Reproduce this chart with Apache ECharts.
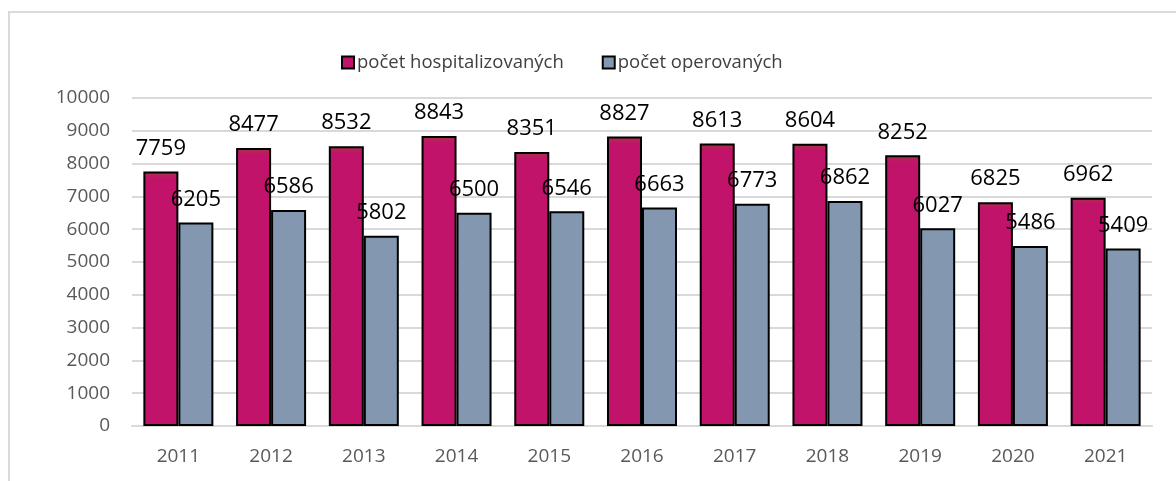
<!DOCTYPE html>
<html>
<head>
<meta charset="utf-8">
<script src="https://cdn.jsdelivr.net/npm/echarts@6/dist/echarts.min.js"></script>
<style>
  html, body { margin: 0; padding: 0; background: #fff; }
  #frame { position: absolute; left: 8px; top: 11px; width: 1180px; height: 480px;
           border-left: 2px solid #d9d9d9; border-top: 2px solid #d9d9d9; }
  #chart { position: absolute; left: 0; top: 0; width: 1176px; height: 481px; }
</style>
</head>
<body>
<div id="frame"></div>
<div id="chart"></div>
<script>
// roky a hodnoty
var roky = ['2011', '2012', '2013', '2014', '2015', '2016', '2017', '2018', '2019', '2020', '2021'];
var hospitalizovani = [7759, 8477, 8532, 8843, 8351, 8827, 8613, 8604, 8252, 6825, 6962];
var operovani = [6205, 6586, 5802, 6500, 6546, 6663, 6773, 6862, 6027, 5486, 5409];

var font = 'Open Sans';

var chart = echarts.init(document.getElementById('chart'));

var option = {
    animation: false,
    textStyle: { fontFamily: font },
    legend: {
        top: 48,
        left: 336,
        icon: 'rect',
        itemWidth: 12,
        itemHeight: 12,
        itemGap: 38,
        itemStyle: { borderColor: '#000', borderWidth: 2 },
        textStyle: { fontSize: 18.5, color: '#404040', fontFamily: font, padding: [0, 0, 0, -2] },
        data: ['počet hospitalizovaných', 'počet operovaných']
    },
    grid: { left: 132, right: 24, top: 98, bottom: 55 },
    xAxis: {
        type: 'category',
        data: roky,
        axisLine: { lineStyle: { color: '#d9d9d9', width: 2 } },
        axisTick: { show: false },
        axisLabel: { fontSize: 19, color: '#595959', margin: 21 }
    },
    yAxis: {
        type: 'value',
        min: 0,
        max: 10000,
        interval: 1000,
        axisLine: { show: false },
        axisTick: { show: false },
        axisLabel: {
            fontSize: 19,
            color: '#595959',
            margin: 22,
            formatter: function (v) { return String(v); }
        },
        splitLine: { lineStyle: { color: '#d9d9d9', width: 2 } }
    },
    series: [
        {
            name: 'počet hospitalizovaných',
            type: 'bar',
            data: hospitalizovani,
            barWidth: 35,
            barGap: '0%',
            itemStyle: {
                color: {
                    type: 'linear', x: 0, y: 0, x2: 0, y2: 1,
                    colorStops: [
                        { offset: 0, color: '#a83545' },
                        { offset: 0.025, color: '#c2136a' },
                        { offset: 1, color: '#c2136a' }
                    ]
                },
                borderColor: '#000',
                borderWidth: 2
            },
            label: {
                show: true,
                position: 'top',
                distance: 12,
                fontSize: 22,
                color: '#000',
                fontFamily: font
            }
        },
        {
            name: 'počet operovaných',
            type: 'bar',
            data: operovani,
            barWidth: 35,
            itemStyle: {
                color: '#8497b0',
                borderColor: '#000',
                borderWidth: 2
            },
            label: {
                show: true,
                position: 'top',
                distance: 12,
                fontSize: 22,
                color: '#000',
                fontFamily: font
            }
        }
    ]
};

chart.setOption(option);
</script>
</body>
</html>
